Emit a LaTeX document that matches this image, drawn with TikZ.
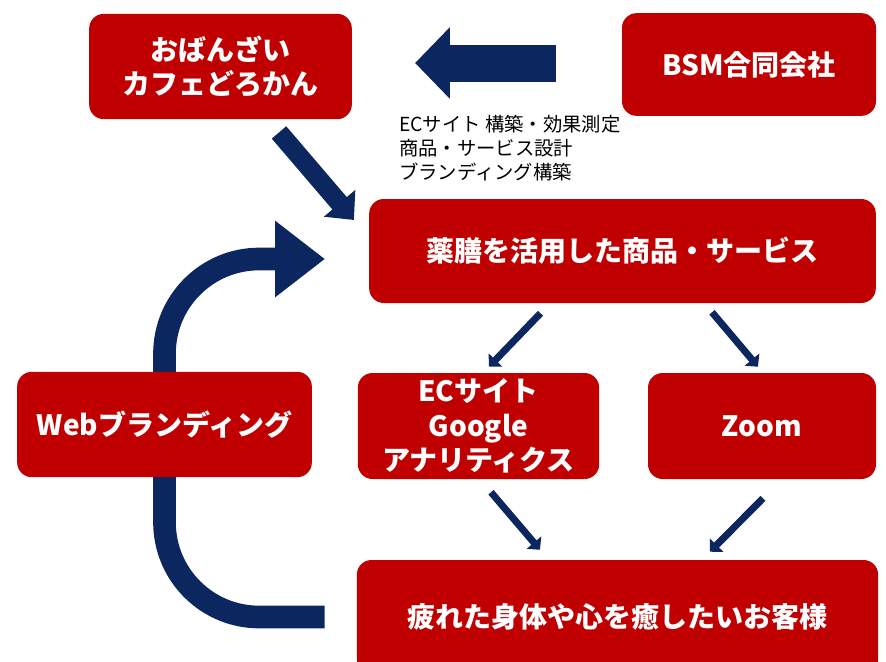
\documentclass[tikz,border=0pt]{standalone}
\usepackage{fontspec}
\setmainfont{Noto Sans CJK JP}
\usetikzlibrary{arrows.meta,backgrounds}
\definecolor{boxred}{RGB}{192,0,0}
\definecolor{arrowblue}{RGB}{12,38,96}

\begin{document}
\begin{tikzpicture}[x=0.75pt,y=-0.75pt,
box/.style={fill=boxred,rounded corners=11pt,text=white,align=center,inner sep=0pt,
  font=\bfseries\fontsize{21}{26}\selectfont},
fat/.style={arrowblue,line width=27.75pt,-{Triangle[length=26pt,width=52pt]}},
loopline/.style={arrowblue,line width=17pt,rounded corners=71pt,-{Triangle[length=37.5pt,width=55pt]}},
slant/.style={arrowblue,line width=14.25pt,-{Triangle[length=16.5pt,width=30pt]}},
small/.style={arrowblue,line width=5.25pt,-{Triangle[length=7pt,width=14pt]}}]
\useasboundingbox (0,0) rectangle (886,661);
\clip (0,0) rectangle (886,661);

\node[box,minimum width=197pt,minimum height=79pt] (cafe) at (220.5,66.5) {おばんざい\\カフェどろかん};
\node[box,minimum width=190.5pt,minimum height=77pt] (bsm) at (749,64.5) {BSM合同会社};
\node[box,minimum width=380pt,minimum height=78pt] (yakuzen) at (622.5,251) {薬膳を活用した商品・サービス};
\node[box,minimum width=221pt,minimum height=79pt] (web) at (164.5,424.5) {Webブランディング};
\node[box,minimum width=181pt,minimum height=79.5pt] (ec) at (478.5,426) {ECサイト\\Google\\アナリティクス};
\node[box,minimum width=171pt,minimum height=79.5pt] (zoom) at (762,426) {Zoom};
\node[box,minimum width=391pt,minimum height=85.5pt] (goal) at (617.5,617) {疲れた身体や心を癒したいお客様};

\node[anchor=west,align=left,inner sep=0pt,font=\fontsize{14.5}{17.8}\selectfont] (service) at (399,148)
  {ECサイト 構築・効果測定\\商品・サービス設計\\ブランディング構築};

\coordinate (loopend) at (325,259);

\draw[fat] ([shift={(-66,-1.5)}]bsm.west) -- ([shift={(63,-3.5)}]cafe.east);
\draw[slant] ([shift={(58.5,13)}]cafe.south) -- ([shift={(-15,-31)}]yakuzen.west);
\begin{scope}[on background layer]
\draw[loopline] ([xshift=-24pt]goal.west) -| (loopend -| web.center) -- (loopend);
\end{scope}

\draw[small] ([shift={(-82,10)}]yakuzen.south) -- ([shift={(10.5,-6)}]ec.north);
\draw[small] ([shift={(89.5,9)}]yakuzen.south) -- ([shift={(-4,-6)}]zoom.north);
\draw[small] ([shift={(12.5,13)}]ec.south) -- ([shift={(-77.5,-10)}]goal.north);
\draw[small] ([shift={(1,19)}]zoom.south) -- ([shift={(92.5,-8)}]goal.north);
\end{tikzpicture}
\end{document}
